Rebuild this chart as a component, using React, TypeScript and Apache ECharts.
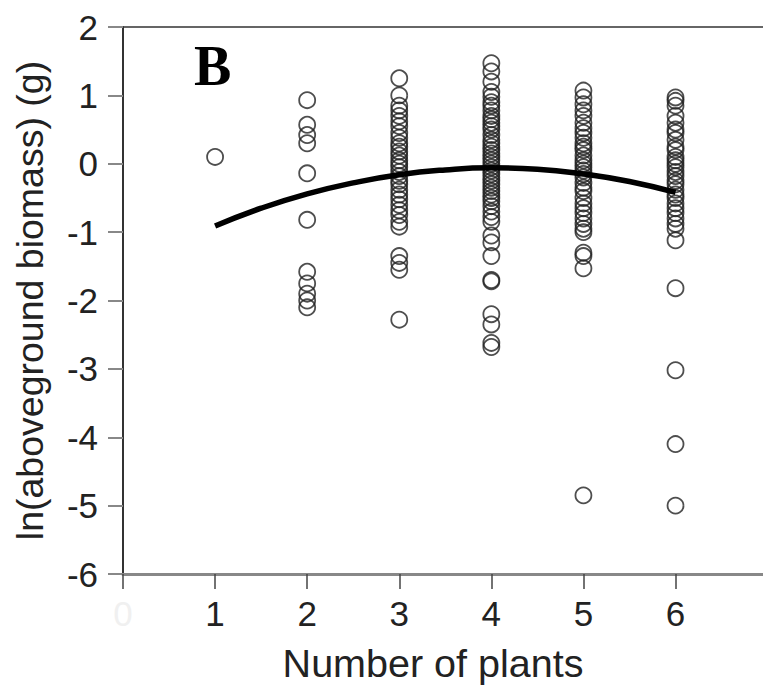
import React, { useEffect, useRef } from "react";
import * as echarts from "echarts";

const xTicks = [0, 1, 2, 3, 4, 5, 6];
const yTicks = [-6, -5, -4, -3, -2, -1, 0, 1, 2];

const plants1 = [0.1];
const plants2 = [0.93, 0.57, 0.42, 0.3, -0.14, -0.82, -1.58, -1.75, -1.9, -2.0, -2.1];
const plants3 = [1.25, 1.0, 0.85, 0.78, 0.7, 0.62, 0.55, 0.45, 0.38, 0.3, 0.25, 0.18, 0.12, 0.05, 0.0, -0.05, -0.12, -0.18, -0.25, -0.3, -0.38, -0.45, -0.52, -0.6, -0.68, -0.75, -0.85, -0.92, -1.35, -1.45, -1.55, -2.28];
const plants4 = [1.47, 1.35, 1.2, 1.05, 0.98, 0.9, 0.85, 0.78, 0.7, 0.65, 0.6, 0.55, 0.5, 0.42, 0.35, 0.3, 0.25, 0.2, 0.15, 0.1, 0.05, 0.0, -0.05, -0.1, -0.15, -0.2, -0.25, -0.3, -0.35, -0.4, -0.45, -0.5, -0.55, -0.62, -0.7, -0.78, -0.85, -1.05, -1.15, -1.35, -1.7, -1.72, -2.2, -2.35, -2.62, -2.68];
const plants5 = [1.07, 0.97, 0.87, 0.78, 0.7, 0.6, 0.52, 0.45, 0.38, 0.3, 0.25, 0.2, 0.12, 0.05, 0.0, -0.05, -0.1, -0.15, -0.2, -0.28, -0.35, -0.4, -0.5, -0.58, -0.65, -0.72, -0.8, -0.88, -0.95, -1.0, -1.3, -1.35, -1.53, -4.85];
const plants6 = [0.97, 0.92, 0.85, 0.7, 0.6, 0.5, 0.45, 0.35, 0.25, 0.2, 0.1, 0.05, 0.0, -0.05, -0.12, -0.18, -0.25, -0.3, -0.38, -0.45, -0.5, -0.58, -0.65, -0.72, -0.8, -0.88, -0.95, -1.12, -1.82, -3.02, -4.1, -5.0];

const fitX = [1, 1.5, 2, 2.5, 3, 3.5, 4, 4.5, 5, 5.5, 6];
const fitY = [-0.91, -0.65, -0.44, -0.28, -0.16, -0.09, -0.06, -0.08, -0.15, -0.26, -0.42];

const groups: [number, number[]][] = [
  [1, plants1],
  [2, plants2],
  [3, plants3],
  [4, plants4],
  [5, plants5],
  [6, plants6],
];

export default function App() {
  const ref = useRef<HTMLDivElement>(null);
  useEffect(() => {
    if (!ref.current) return;
    const chart = echarts.init(ref.current, null, { renderer: "svg" });
    const points: number[][] = [];
    groups.forEach(([x, ys]) => ys.forEach((y) => points.push([x, y])));
    const fit = fitX.map((x, i) => [x, fitY[i]]);
    const font = "Liberation Sans, Arial, sans-serif";
    chart.setOption({
      animation: false,
      backgroundColor: "#ffffff",
      title: {
        text: "B",
        left: 189,
        top: 33,
        textStyle: {
          fontFamily: "Liberation Serif, Times New Roman, serif",
          fontWeight: "bold",
          fontSize: 56,
          color: "#000",
        },
      },
      grid: {
        left: 123,
        right: 0,
        top: 27,
        bottom: 122,
        show: false,
      },
      xAxis: [
        {
          type: "value",
          min: 0,
          max: 6.95,
          interval: 1,
          name: "Number of plants",
          nameLocation: "middle",
          nameGap: 69,
          nameTextStyle: { fontFamily: font, fontSize: 39.5, color: "#222", padding: [0, 20, 0, 0] },
          axisLine: { show: true, onZero: false, lineStyle: { color: "#888", width: 3 } },
          axisTick: { show: true, length: 15, lineStyle: { color: "#444", width: 1.5 } },
          splitLine: { show: false },
          axisLabel: {
            fontFamily: font,
            fontSize: 35,
            margin: 22,
            showMaxLabel: false,
            color: (v: any) => (Number(v) === 0 ? "#f0f0f0" : "#222"),
            formatter: (v: number) => (xTicks.includes(v) ? String(v) : ""),
          },
        },
        {
          type: "value",
          position: "top",
          min: 0,
          max: 6.95,
          interval: 1,
          axisLine: { show: true, onZero: false, lineStyle: { color: "#333", width: 1.5 } },
          axisTick: { show: false },
          axisLabel: { show: false },
          splitLine: { show: false },
        },
      ],
      yAxis: {
        type: "value",
        min: -6,
        max: 2,
        interval: 1,
        name: "ln(aboveground biomass) (g)",
        nameLocation: "middle",
        nameGap: 74,
        nameTextStyle: { fontFamily: font, fontSize: 37.5, color: "#222" },
        axisLine: { show: true, onZero: false, lineStyle: { color: "#333", width: 2 } },
        axisTick: { show: true, length: 15, lineStyle: { color: "#888", width: 2 } },
        splitLine: { show: false },
        axisLabel: {
          fontFamily: font,
          fontSize: 35,
          margin: 25,
          color: "#222",
          formatter: (v: number) => (yTicks.includes(v) ? String(v) : ""),
        },
      },
      series: [
        {
          type: "scatter",
          data: points,
          symbol: "circle",
          symbolSize: 16,
          itemStyle: { color: "transparent", borderColor: "#222", borderWidth: 1.8 },
          z: 2,
        },
        {
          type: "line",
          data: fit,
          smooth: true,
          showSymbol: false,
          symbol: "none",
          lineStyle: { color: "#000", width: 5.5 },
          z: 3,
        },
      ],
    });
    return () => chart.dispose();
  }, []);
  return (
    <div
      ref={ref}
      style={{ position: "fixed", left: 0, top: 0, width: 763, height: 696, background: "#fff" }}
    />
  );
}
